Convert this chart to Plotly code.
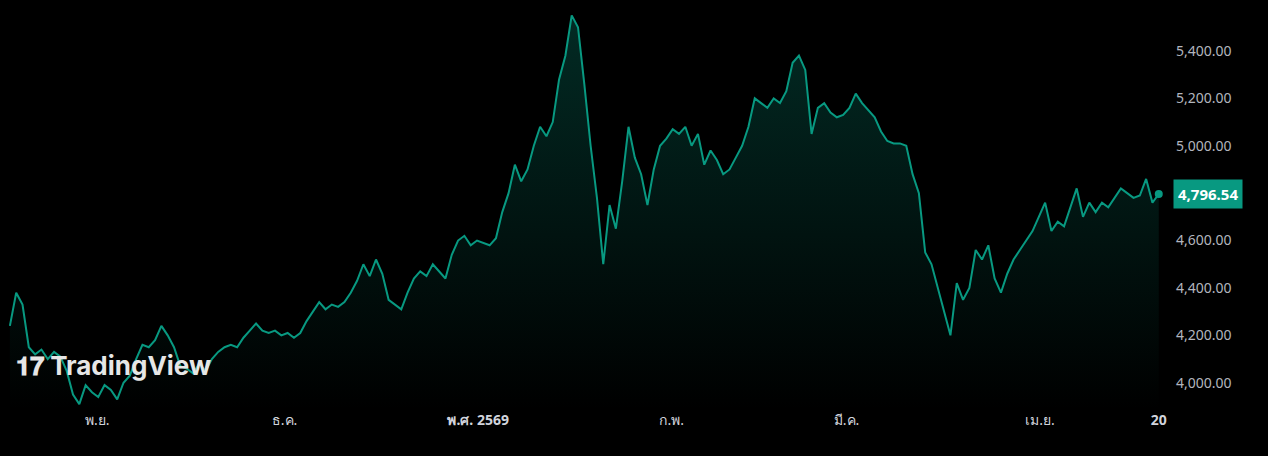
import pandas as pd
import plotly.graph_objects as go

# values, left to right
values = [4240, 4380, 4330, 4150, 4120, 4140, 4100, 4130, 4110,
          4050, 3950, 3910, 3990, 3960, 3940, 3990, 3970, 3930, 4000, 4030,
          4100, 4160, 4150, 4180, 4240, 4200, 4150, 4070, 4060, 4040, 4080, 4050, 4100,
          4130, 4150, 4160, 4150, 4190, 4220, 4250, 4220, 4210, 4220, 4200, 4210, 4190,
          4210, 4260, 4300, 4340, 4310, 4330, 4320, 4340, 4380, 4430,
          4500, 4450, 4520, 4460, 4350, 4330, 4310, 4380, 4440, 4470, 4450,
          4500, 4470, 4440, 4540, 4600, 4620, 4580, 4600, 4590, 4580, 4610,
          4720, 4800, 4920, 4850, 4900, 5000, 5080, 5040, 5100, 5280, 5380,
          5550, 5500, 5260, 5000, 4780, 4500, 4750, 4650, 4850, 5080,
          4950, 4880, 4750, 4900, 5000, 5030, 5070, 5050, 5080, 5000, 5050, 4920,
          4980, 4940, 4880, 4900, 4950, 5000, 5080, 5200, 5180, 5160, 5200, 5180, 5230,
          5350, 5380, 5320, 5050, 5160, 5180, 5140, 5120, 5130, 5160,
          5220, 5180, 5150, 5120, 5060, 5020, 5010, 5010, 5000,
          4880, 4800, 4550, 4500, 4400, 4300, 4200, 4420, 4350, 4400,
          4560, 4520, 4580, 4440, 4380, 4460, 4520, 4560, 4600, 4640, 4700, 4760,
          4640, 4680, 4660, 4740, 4820, 4700, 4760, 4720, 4760, 4740, 4780, 4820,
          4800, 4780, 4790, 4860, 4760, 4796.54]
last_price = 4796.54

dates = pd.date_range("2025-10-18", "2026-04-20", periods=len(values))

tick_dates = ["2025-11-01", "2025-12-01", "2026-01-01", "2026-02-01",
              "2026-03-01", "2026-04-01", "2026-04-20"]
tick_text = ["พ.ย.", "ธ.ค.", "<b>พ.ศ. 2569</b>", "ก.พ.", "มี.ค.", "เม.ย.", "<b>20</b>"]
y_ticks = [4000, 4200, 4400, 4600, 5000, 5200, 5400]  # 4,800 sits under the price tag

green = "#089981"

fig = go.Figure()
fig.add_trace(go.Scatter(
    x=dates, y=values, mode="lines",
    line=dict(color=green, width=2),
    fill="tozeroy",
    fillgradient=dict(type="vertical",
                      colorscale=[[0, "rgba(8,153,129,0)"], [1, "rgba(8,153,129,0.28)"]],
                      start=3885, stop=5550),
    hoverinfo="skip"))
fig.add_trace(go.Scatter(x=[dates[-1]], y=[last_price], mode="markers",
                         marker=dict(color=green, size=8), hoverinfo="skip"))

fig.update_layout(
    width=1268, height=456,
    paper_bgcolor="#000000", plot_bgcolor="#000000",
    showlegend=False,
    font=dict(family="Noto Sans, sans-serif", size=14, color="#b2b5be"),
    margin=dict(l=0, r=103, t=0, b=46),
    xaxis=dict(range=[pd.Timestamp("2025-10-16 10:00"), pd.Timestamp("2026-04-21")],
               tickvals=tick_dates, ticktext=tick_text, showgrid=False,
               zeroline=False, showline=False, ticks="",
               tickfont=dict(color="#d1d4dc")),
    yaxis=dict(range=[3885, 5615], side="right", tickvals=y_ticks,
               tickformat=",.2f", showgrid=False, zeroline=False,
               ticklabelstandoff=10),
)
fig.add_annotation(x=1, xref="paper", xanchor="left", y=last_price, yref="y",
                   text="<b>4,796.54</b>", showarrow=False, bgcolor=green,
                   font=dict(color="white", size=15), xshift=8, borderpad=4)
fig.add_annotation(x=0.012, xref="paper", y=0.066, yref="paper", xanchor="left",
                   text="<b>𝟏𝟕 TradingView</b>", showarrow=False,
                   font=dict(size=26, color="#e6e6e6", family="Inter, sans-serif"))

fig.write_html("out.html", config={"displayModeBar": False},
               post_script="document.body.style.margin='0';document.body.style.background='black';")
